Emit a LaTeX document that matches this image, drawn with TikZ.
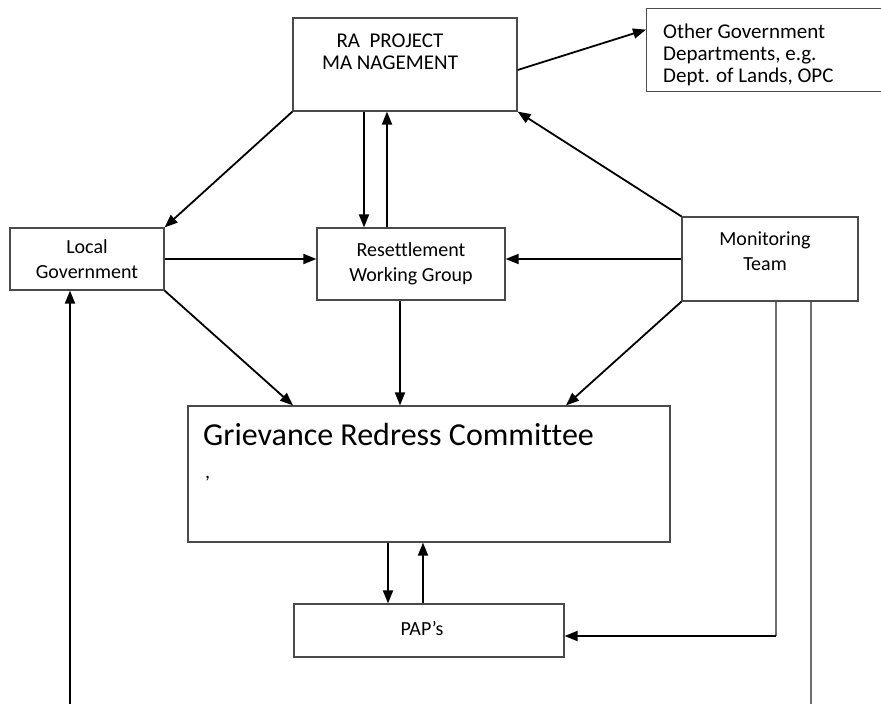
\documentclass[tikz,border=0pt]{standalone}
\usepackage{fontspec}
\setmainfont{Carlito}[Ligatures=NoCommon]
\usetikzlibrary{arrows.meta, positioning}
\usepackage{xcolor}
\definecolor{boxgray}{HTML}{4A4A4A}
\definecolor{wiregray}{HTML}{6E6E6E}
\newcommand{\boxfont}{\fontsize{20pt}{25pt}\selectfont}
\newcommand{\topfont}{\fontsize{21pt}{22pt}\selectfont}
\newcommand{\bigfont}{\fontsize{32pt}{38pt}\selectfont}
\tikzset{
	box/.style={draw=boxgray, line width=1.2pt, inner sep=0pt, align=center, font=\boxfont},
	txt/.style={inner sep=0pt, align=center, font=\boxfont},
	toptxt/.style={inner sep=0pt, font=\topfont},
	arrow/.style={line width=1.8pt, -{Triangle[length=13pt, width=10pt]}},
	wire/.style={draw=wiregray, line width=1.2pt},
}

\begin{document}
\begin{tikzpicture}[x=1pt, y=-1pt]
	\useasboundingbox (0,0) rectangle (881,704);
	\clip (0,0) rectangle (881,704);
	% top row
	\node[box, minimum width=224pt, minimum height=93pt] (ra) at (405,64.5) {};
	\node[toptxt, align=center] (ralbl) at (390,52) {RA\ \ PROJECT\\MA NAGEMENT};
	\node[box, minimum width=254pt, minimum height=83pt, anchor=north west] (other) at (646,8) {};
	\node[toptxt, align=left, anchor=west] (otherlbl) at (663,55) {Other Government\\Departments, e.g.\\Dept. of Lands, OPC};

	% middle row
	\node[box, minimum width=154pt, minimum height=62pt] (lg) at (87,259) {Local\\Government};
	\node[box, minimum width=188pt, minimum height=72pt] (rwg) at (411,264) {Resettlement\\Working Group};
	\node[box, minimum width=176pt, minimum height=84pt] (mt) at (770,259) {};
	\node[txt] (mtlbl) at (765,251) {Monitoring\\Team};

	% committee and PAPs
	\node[box, minimum width=482pt, minimum height=136pt] (grc) at (429,474) {};
	\node[inner sep=0pt, anchor=west, font=\bigfont] (grclbl) at (203,435) {Grievance Redress Committee};
	\node[txt, anchor=base west] (grccomma) at (205,478) {,};
	\node[box, minimum width=270pt, minimum height=53pt] (pap) at (429,630.5) {};
	\node[txt] (paplbl) at (422,629) {PAP’s};

	\coordinate (bend) at (776,636);
	\coordinate (mtfoot) at (811,704);
	\coordinate (lgfoot) at (70,704);

	% connectors
	\draw[arrow] ([yshift=-5.5pt]ra.east) -- ([yshift=20.5pt]other.west);
	\draw[arrow] (ra.south west) -- (lg.north east);
	\draw[arrow] ([xshift=-41pt]ra.south) -- ([xshift=-47pt]rwg.north);
	\draw[arrow] ([xshift=-24pt]rwg.north) -- ([xshift=-18pt]ra.south);
	\draw[arrow] (mt.north west) -- (ra.south east);
	\draw[arrow] (lg.east) -- ([yshift=5pt]rwg.west);
	\draw[arrow] (mt.west) -- ([yshift=5pt]rwg.east);
	\draw[arrow] (lg.south east) -- ([xshift=-136pt]grc.north);
	\draw[arrow] ([xshift=-11pt]rwg.south) -- ([xshift=-29pt]grc.north);
	\draw[arrow] (mt.south west) -- ([xshift=137pt]grc.north);
	\draw[arrow] ([xshift=-41pt]grc.south) -- ([xshift=-41pt]pap.north);
	\draw[arrow] ([xshift=-6pt]pap.north) -- ([xshift=-6pt]grc.south);
	\draw[wire] ([xshift=6pt]mt.south) -- (bend);
	\draw[arrow] (bend) -- ([yshift=-5.5pt]pap.east);
	\draw[wire] ([xshift=41pt]mt.south) -- (mtfoot);
	\draw[arrow] (lgfoot) -- ([xshift=-17pt]lg.south);
\end{tikzpicture}
\end{document}
